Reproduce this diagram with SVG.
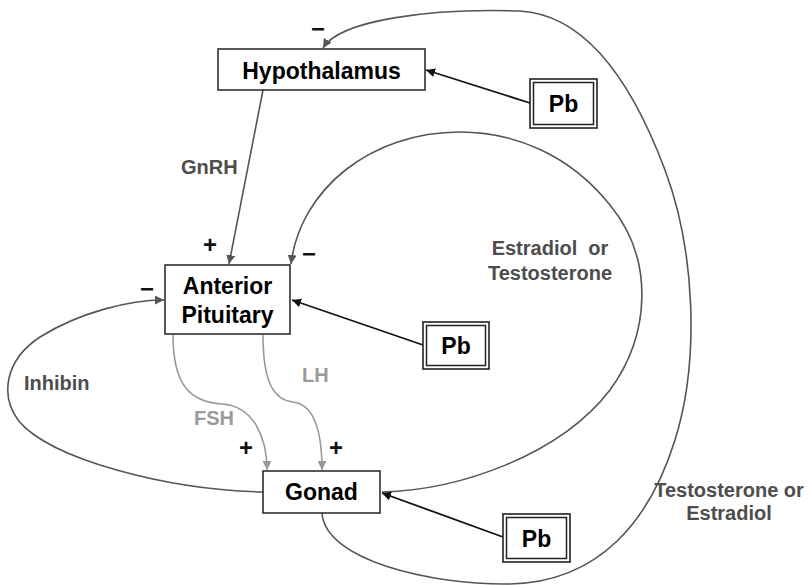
<svg xmlns="http://www.w3.org/2000/svg" width="809" height="585" viewBox="0 0 809 585">
  <style>
    .box { fill: #fff; stroke: #222; stroke-width: 1.5; }
    .pb-out { fill: #fff; stroke: #222; stroke-width: 1.6; }
    .pb-in { fill: none; stroke: #222; stroke-width: 1.5; }
    .node-text { font-family: "Liberation Sans", Arial, sans-serif; font-weight: bold; font-size: 23px; fill: #000; text-anchor: middle; }
    .label { font-family: "Liberation Sans", Arial, sans-serif; font-weight: bold; font-size: 20px; fill: #4d4d4d; }
    .label-light { font-family: "Liberation Sans", Arial, sans-serif; font-weight: bold; font-size: 20px; fill: #9a9a9a; }
    .sign { font-family: "Liberation Sans", Arial, sans-serif; font-weight: bold; font-size: 24px; fill: #111; text-anchor: middle; }
    .feedback { fill: none; stroke: #555; stroke-width: 1.6; }
    .hormone { fill: none; stroke: #999; stroke-width: 1.6; }
    .lead { fill: none; stroke: #111; stroke-width: 1.8; }
  </style>
  <defs>
    <marker id="ah-dark" viewBox="0 0 10 10" refX="10" refY="5" markerWidth="9" markerHeight="9" markerUnits="userSpaceOnUse" orient="auto">
      <path d="M0,0 L10,5 L0,10 z" fill="#555"/>
    </marker>
    <marker id="ah-light" viewBox="0 0 10 10" refX="10" refY="5" markerWidth="9" markerHeight="9" markerUnits="userSpaceOnUse" orient="auto">
      <path d="M0,0 L10,5 L0,10 z" fill="#999"/>
    </marker>
    <marker id="ah-black" viewBox="0 0 10 10" refX="10" refY="5" markerWidth="9" markerHeight="9" markerUnits="userSpaceOnUse" orient="auto">
      <path d="M0,0 L10,5 L0,10 z" fill="#111"/>
    </marker>
  </defs>

  <!-- connectors -->
  <g id="connectors">
    <!-- GnRH: hypothalamus to pituitary -->
    <path class="feedback" d="M263,90 L229,264" marker-end="url(#ah-dark)"/>
    <!-- long loop: gonad back to hypothalamus -->
    <path class="feedback" d="M322,513 C325,560 430,585 510,584 C600,582 650,520 675,440 C700,360 695,250 665,170 C635,90 590,15 520,11 C430,8 340,20 323,48" marker-end="url(#ah-dark)"/>
    <!-- short loop: gonad back to pituitary -->
    <path class="feedback" d="M382,492 C460,490 560,455 610,390 C650,335 655,260 610,205 C570,155 515,132 460,132 C370,132 300,190 291,264" marker-end="url(#ah-dark)"/>
    <!-- inhibin loop -->
    <path class="feedback" d="M263,492 C170,490 50,460 18,420 C0,395 5,360 40,337 C80,312 130,300 164,300" marker-end="url(#ah-dark)"/>
    <!-- FSH and LH -->
    <path class="hormone" d="M173,335 C173,385 190,402 222,404 C255,406 267,440 267,470" marker-end="url(#ah-light)"/>
    <path class="hormone" d="M263,335 C263,385 275,400 293,402 C318,405 322,440 322,470" marker-end="url(#ah-light)"/>
    <!-- lead inputs -->
    <path class="lead" d="M530,103 L426,70" marker-end="url(#ah-black)"/>
    <path class="lead" d="M423,345 L292,300" marker-end="url(#ah-black)"/>
    <path class="lead" d="M503,537 L382,493" marker-end="url(#ah-black)"/>
  </g>

  <!-- nodes -->
  <g id="hypothalamus">
    <rect class="box" x="218" y="49" width="207" height="41"/>
    <text class="node-text" x="321.5" y="79">Hypothalamus</text>
  </g>
  <g id="anterior-pituitary">
    <rect class="box" x="165" y="265" width="125" height="69"/>
    <text class="node-text" x="227.5" y="294">Anterior</text>
    <text class="node-text" x="227.5" y="323">Pituitary</text>
  </g>
  <g id="gonad">
    <rect class="box" x="263" y="471" width="117" height="42"/>
    <text class="node-text" x="321.5" y="500">Gonad</text>
  </g>
  <g id="pb-hypothalamus">
    <rect class="pb-out" x="530" y="79" width="67" height="49"/>
    <rect class="pb-in" x="533.5" y="82.5" width="60" height="42"/>
    <text class="node-text" x="563.5" y="112">Pb</text>
  </g>
  <g id="pb-pituitary">
    <rect class="pb-out" x="423" y="322" width="66" height="47"/>
    <rect class="pb-in" x="426.5" y="325.5" width="59" height="40"/>
    <text class="node-text" x="456" y="354">Pb</text>
  </g>
  <g id="pb-gonad">
    <rect class="pb-out" x="503" y="514" width="67" height="48"/>
    <rect class="pb-in" x="506.5" y="517.5" width="60" height="41"/>
    <text class="node-text" x="536.5" y="547">Pb</text>
  </g>

  <!-- hormone labels -->
  <g id="labels">
    <text class="label" x="181" y="174">GnRH</text>
    <text class="label" x="24" y="390">Inhibin</text>
    <text class="label-light" x="194" y="425">FSH</text>
    <text class="label-light" x="302" y="382">LH</text>
    <text class="label" x="550" y="255" text-anchor="middle" xml:space="preserve">Estradiol  or</text>
    <text class="label" x="550" y="280" text-anchor="middle">Testosterone</text>
    <text class="label" x="729" y="497" text-anchor="middle">Testosterone or</text>
    <text class="label" x="729" y="520" text-anchor="middle">Estradiol</text>
  </g>

  <!-- feedback signs -->
  <g id="signs">
    <text class="sign" x="318" y="37">−</text>
    <text class="sign" x="309" y="262">−</text>
    <text class="sign" x="147" y="297">−</text>
    <text class="sign" x="210" y="253">+</text>
    <text class="sign" x="246" y="456">+</text>
    <text class="sign" x="336" y="456">+</text>
  </g>
</svg>
